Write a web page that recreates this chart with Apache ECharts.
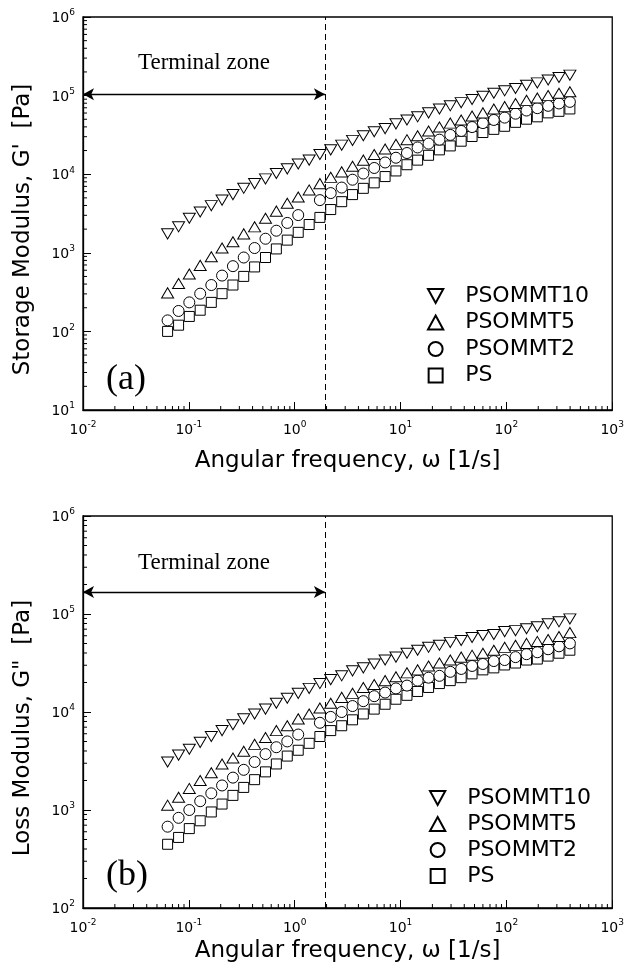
<!DOCTYPE html>
<html>
<head>
<meta charset="utf-8">
<script src="https://cdn.jsdelivr.net/npm/echarts@6/dist/echarts.min.js"></script>
<style>
  html, body { margin: 0; background: #fff; }
  #main { width: 627px; height: 971px; }
</style>
</head>
<body>
<div id="main"></div>
<script>
const omega = [0.063, 0.080, 0.101, 0.128, 0.163, 0.206, 0.261, 0.330, 0.418, 0.530,
  0.671, 0.851, 1.08, 1.37, 1.73, 2.19, 2.78, 3.52, 4.45, 5.64,
  7.15, 9.05, 11.5, 14.5, 18.4, 23.3, 29.5, 37.4, 47.4, 60.0,
  76.1, 96.3, 122, 155, 196, 248, 314, 398];

const seriesNames = ["PSOMMT10", "PSOMMT5", "PSOMMT2", "PS"];

// (a) storage modulus G' [Pa]
const storage10 = [1740, 2140, 2750, 3310, 3980, 4680, 5500, 6610, 7590, 8710,
  10200, 11700, 13500, 15100, 17800, 20400, 23400, 26900, 30900, 34700,
  38000, 43700, 49000, 53700, 60300, 67600, 74100, 81300, 89100, 97700,
  107000, 115000, 123000, 135000, 145000, 158000, 170000, 182000];
const storage5 = [309, 407, 537, 692, 891, 1150, 1380, 1740, 2140, 2750,
  3390, 4270, 5130, 6310, 7590, 9120, 10700, 12600, 15100, 17800,
  20900, 24000, 27500, 30900, 35500, 39800, 44700, 49000, 55000, 60300,
  67600, 72400, 79400, 87100, 93300, 100000, 107000, 112000];
const storage2 = [138, 182, 234, 302, 389, 513, 676, 871, 1150, 1510,
  1910, 2400, 3020, null, 4680, 5750, 6760, 8510, 10200, 12000,
  14100, 16200, 18600, 21900, 24500, 27500, 31600, 35500, 39800, 44700,
  49000, 52500, 58900, 64600, 69200, 74100, 79400, 83200];
const storagePS = [100, 120, 155, 186, 234, 302, 389, 501, 661, 871,
  1120, 1450, 1820, 2290, 2820, 3550, 4470, 5500, 6610, 7760,
  9330, 11000, 13200, 15100, 17400, 20400, 22900, 26300, 30200, 33900,
  37200, 40700, 45700, 50100, 53700, 60300, 63100, 67600];

// (b) loss modulus G'' [Pa]
const loss10 = [3090, 3630, 4170, 4900, 5620, 6460, 7410, 8510, 9550, 10700,
  12300, 13800, 15500, 17400, 19500, 21400, 23400, 26300, 28200, 30900,
  33900, 36300, 39800, 42700, 45700, 47900, 51300, 53700, 57500, 60300,
  61700, 66100, 67600, 70800, 74100, 79400, 83200, 89100];
const loss5 = [1120, 1350, 1660, 2000, 2400, 2950, 3390, 3980, 4680, 5500,
  6460, 7240, 8510, 9550, 11000, 12300, 14100, 15500, 17800, 19100,
  20900, 22900, 25100, 26900, 29500, 31600, 33900, 36300, 38000, 39800,
  42700, 45700, 47900, 50100, 52500, 55000, 58900, 64600];
const loss2 = [676, 832, 1000, 1230, 1480, 1780, 2140, 2570, 3090, 3720,
  4370, 5010, 5890, null, 7760, 8910, 10000, 11500, 12900, 14500,
  15800, 17400, 18600, 20900, 22400, 23400, 25700, 27500, 29500, 30900,
  33100, 33900, 36300, 38900, 40700, 43700, 46800, 50100];
const lossPS = [447, 525, 646, 776, 955, 1150, 1410, 1700, 2040, 2450,
  2950, 3550, 4070, 4790, 5620, 6460, 7240, 8320, 9550, 10700,
  12000, 13500, 14800, 16200, 17800, 19500, 20900, 22400, 24500, 26900,
  28200, 30200, 31600, 33900, 34700, 37200, 39800, 42700];

// axis decades
const xTicks = [0.01, 0.1, 1, 10, 100, 1000];
const yTicksA = [10, 100, 1000, 10000, 100000, 1000000];
const yTicksB = [100, 1000, 10000, 100000, 1000000];

// annotations
const terminalEdge = 1.93;      // dashed line, 1/s
const arrowLevelA = 104000;     // Pa
const arrowLevelB = 168000;     // Pa

const symDown = "path://M0,0L12,0L6,11Z";
const symUp = "path://M6,0L12,11L0,11Z";
const symSquare = "path://M0,0L10,0L10,10L0,10Z";
const markers = [
  { symbol: symDown, size: [12, 11] },
  { symbol: symUp, size: [12, 11] },
  { symbol: "circle", size: 11 },
  { symbol: symSquare, size: 10 },
];

const sansFont = "DejaVu Sans";
const serifFont = "Liberation Serif";

function pairs(vals) {
  return omega.map((w, i) => (vals[i] == null ? null : [w, vals[i]])).filter(Boolean);
}

function decadeLabel(v) {
  const e = Math.round(Math.log10(v));
  return "{b|10}{s|" + e + "}";
}

const labelRich = {
  b: { fontFamily: sansFont, fontSize: 14, color: "#000", lineHeight: 17, verticalAlign: "bottom" },
  s: { fontFamily: sansFont, fontSize: 9, color: "#000", lineHeight: 9, verticalAlign: "top" },
};

function logMinorTicks(lo, hi) {
  const out = [];
  for (let d = lo; d < hi; d *= 10) {
    for (let m = 2; m <= 9; m++) out.push(+(m * d).toPrecision(3));
  }
  return out;
}

function xAxisFor(grid, gap) {
  return {
    type: "log", logBase: 10, gridIndex: grid,
    min: xTicks[0], max: xTicks[xTicks.length - 1], splitNumber: 5,
    name: "Angular frequency, \u03c9 [1/s]", nameLocation: "middle", nameGap: gap,
    nameTextStyle: { fontFamily: sansFont, fontSize: 23, color: "#000" },
    axisLine: { show: true, lineStyle: { color: "#000", width: 1.3 } },
    axisTick: { show: true, inside: true, length: 8, lineStyle: { color: "#000", width: 1 } },
    axisLabel: { margin: 10, formatter: decadeLabel, rich: labelRich },
    splitLine: { show: false },
  };
}

function yAxisFor(grid, ticks, name) {
  return {
    type: "log", logBase: 10, gridIndex: grid,
    min: ticks[0], max: ticks[ticks.length - 1], splitNumber: ticks.length - 1,
    name: name, nameLocation: "middle", nameGap: 48,
    nameTextStyle: { fontFamily: sansFont, fontSize: 23, color: "#000", padding: [0, 32, 0, 0] },
    axisLine: { show: true, lineStyle: { color: "#000", width: 1.3 } },
    axisTick: { show: true, inside: true, length: 8, lineStyle: { color: "#000", width: 1 } },
    axisLabel: { margin: 8, formatter: decadeLabel, rich: labelRich },
    splitLine: { show: false },
  };
}

function minorTickSeries(grid, dir, values, fixed) {
  return {
    type: "custom", xAxisIndex: grid, yAxisIndex: grid, silent: true, z: 1, clip: false,
    data: values.map(v => (dir === "x" ? [v, fixed] : [fixed, v])),
    renderItem: (params, api) => {
      const p = api.coord([api.value(0), api.value(1)]);
      const shape = dir === "x"
        ? { x1: p[0], y1: p[1], x2: p[0], y2: p[1] - 4 }
        : { x1: p[0], y1: p[1], x2: p[0] + 4, y2: p[1] };
      return { type: "line", shape: shape, style: { stroke: "#000", lineWidth: 1 } };
    },
  };
}

function scatterSeries(grid, idx, vals) {
  return {
    type: "scatter", name: seriesNames[idx], xAxisIndex: grid, yAxisIndex: grid,
    symbol: markers[idx].symbol, symbolSize: markers[idx].size, symbolKeepAspect: true,
    itemStyle: { color: "#fff", borderColor: "#000", borderWidth: 1, opacity: 1 },
    z: 3 + (3 - idx),
    data: pairs(vals),
  };
}

function dashedLine() {
  return {
    silent: true, symbol: ["none", "none"],
    lineStyle: { color: "#000", width: 1, type: [6, 4] },
    label: { show: false },
    data: [{ xAxis: terminalEdge }],
  };
}

function arrowLine(level, dist) {
  return {
    silent: true, symbol: ["arrow", "arrow"], symbolSize: [9, 11],
    lineStyle: { color: "#000", width: 1.3, type: "solid" },
    itemStyle: { color: "#000" },
    label: {
      show: true, formatter: "Terminal zone", position: "insideMiddleTop", distance: dist,
      fontFamily: serifFont, fontSize: 23, color: "#000",
    },
    data: [[{ coord: [xTicks[0], level] }, { coord: [terminalEdge, level] }]],
  };
}

function legendFor(top, left, gap) {
  return {
    orient: "vertical", left: left, top: top, itemWidth: 17, itemHeight: 14, itemGap: gap,
    selectedMode: false, data: seriesNames,
    textStyle: { fontFamily: sansFont, fontSize: 22, color: "#000", lineHeight: 22, padding: [0, 0, 0, 16] },
  };
}

const sA = [storage10, storage5, storage2, storagePS].map((v, i) => scatterSeries(0, i, v));
const sB = [loss10, loss5, loss2, lossPS].map((v, i) => scatterSeries(1, i, v));
sA[0].markLine = dashedLine();
sA[1].markLine = arrowLine(arrowLevelA, 20);
sB[0].markLine = dashedLine();
sB[1].markLine = arrowLine(arrowLevelB, 17);

const chart = echarts.init(document.getElementById("main"), null, { renderer: "canvas" });
chart.setOption({
  animation: false,
  backgroundColor: "#fff",
  grid: [
    { left: 83, top: 17, width: 531, height: 393, show: true, borderColor: "#000", borderWidth: 1.3, backgroundColor: "transparent" },
    { left: 83, top: 516, width: 531, height: 392, show: true, borderColor: "#000", borderWidth: 1.3, backgroundColor: "transparent" },
  ],
  xAxis: [xAxisFor(0, 40), xAxisFor(1, 32)],
  yAxis: [
    yAxisFor(0, yTicksA, "Storage Modulus, G'  [Pa]"),
    yAxisFor(1, yTicksB, 'Loss Modulus, G"  [Pa]'),
  ],
  legend: [legendFor(280, 422, 4.5), legendFor(782, 424, 4)],
  graphic: [
    { type: "text", left: 106, top: 362, style: { text: "(a)", font: "36px " + serifFont, fill: "#000" } },
    { type: "text", left: 106, top: 858, style: { text: "(b)", font: "36px " + serifFont, fill: "#000" } },
  ],
  series: [
    ...sA, ...sB,
    minorTickSeries(0, "x", logMinorTicks(xTicks[0], xTicks[xTicks.length - 1]), yTicksA[0]),
    minorTickSeries(0, "y", logMinorTicks(yTicksA[0], yTicksA[yTicksA.length - 1]), xTicks[0]),
    minorTickSeries(1, "x", logMinorTicks(xTicks[0], xTicks[xTicks.length - 1]), yTicksB[0]),
    minorTickSeries(1, "y", logMinorTicks(yTicksB[0], yTicksB[yTicksB.length - 1]), xTicks[0]),
  ],
});
</script>
</body>
</html>
